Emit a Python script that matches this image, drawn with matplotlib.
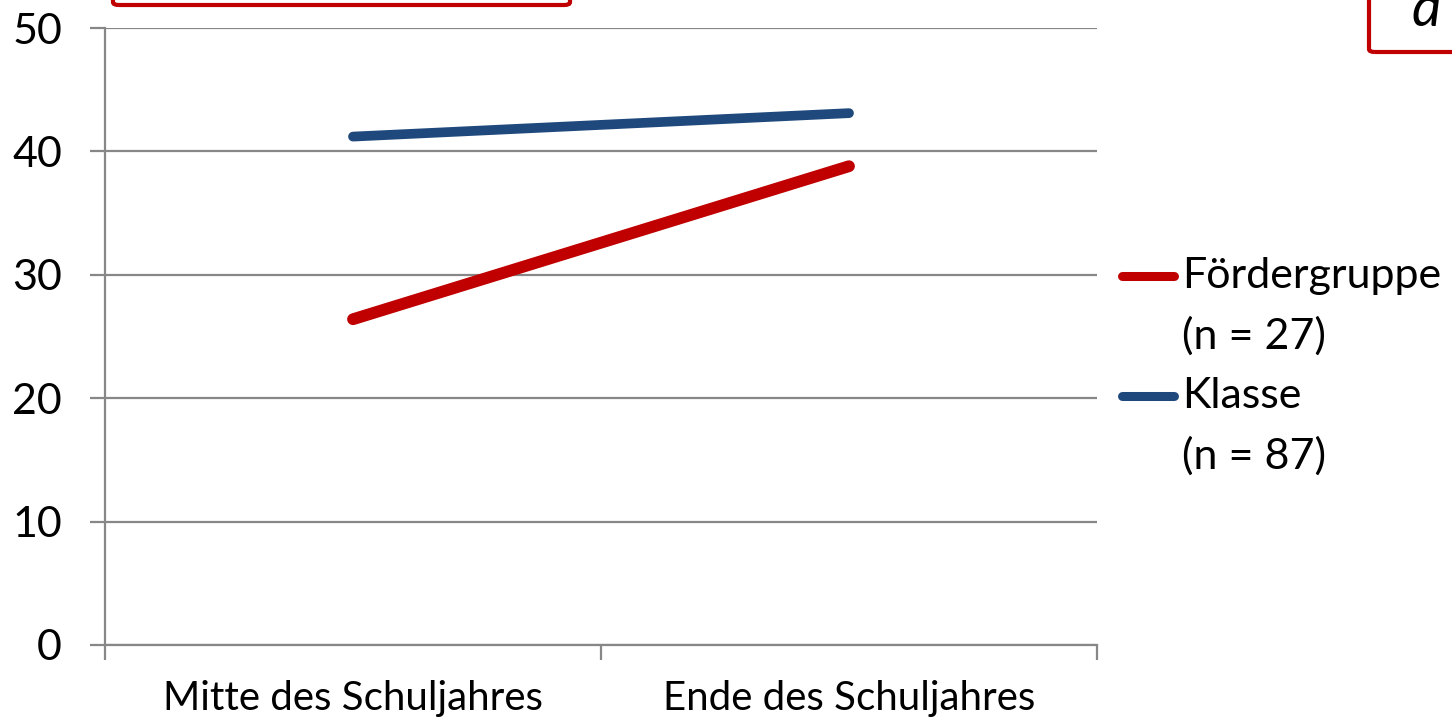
import matplotlib
matplotlib.use('Agg')
import matplotlib.pyplot as plt
from matplotlib.lines import Line2D
from matplotlib.patches import FancyBboxPatch

plt.rcParams['font.family'] = ['Lato', 'DejaVu Sans']

categories = ['Mitte des Schuljahres', 'Ende des Schuljahres']
foerder = [26.4, 38.8]
klasse = [41.2, 43.1]
labels = [('Fördergruppe', '(n = 27)'), ('Klasse', '(n = 87)')]
red = '#C00000'
blue = '#1F497D'
grey = '#878787'

fig = plt.figure(figsize=(14.52, 7.21), dpi=100)
ax = fig.add_axes([105 / 1452, 76 / 721, 992 / 1452, 617 / 721])

xpos = [0.5, 1.5]
ax.plot(xpos, foerder, color=red, lw=8.5, solid_capstyle='round', zorder=3)
ax.plot(xpos, klasse, color=blue, lw=7, solid_capstyle='round', zorder=3)

ax.set_xlim(0, 2)
ax.set_ylim(0, 50)
ax.set_yticks(range(0, 51, 10))
ax.yaxis.grid(True, color=grey, lw=1.6)
ax.set_axisbelow(True)

ax.set_xticks([0, 1, 2])
ax.set_xticklabels([])
ax.set_xticks(xpos, minor=True)
ax.set_xticklabels(categories, minor=True)
ax.tick_params(axis='x', which='major', length=11, width=1.6, color=grey, direction='out')
ax.tick_params(axis='x', which='minor', length=0, pad=25, labelsize=29)
ax.tick_params(axis='y', length=11, width=1.6, color=grey, direction='out', pad=20, labelsize=31)

for s in ['top', 'right']:
    ax.spines[s].set_visible(False)
for s in ['left', 'bottom']:
    ax.spines[s].set_color(grey)
    ax.spines[s].set_linewidth(1.6)

# legend drawn by hand so the handle sits at the first text line
W, H = 1452, 721
for (l1, l2), col, y in zip(labels, [red, blue], [276, 396]):
    fig.add_artist(Line2D([1122 / W, 1174 / W], [1 - y / H, 1 - y / H],
                          color=col, lw=6.5, solid_capstyle='round'))
    fig.text(1182 / W, 1 - y / H, l1, fontsize=31, va='center', ha='left')
    fig.text(1182 / W, 1 - (y + 60) / H, l2, fontsize=31, va='center', ha='left')

# red frames cut off at the top of the slide
fig.add_artist(FancyBboxPatch((113 / W, 1 - 5 / H), 457 / W, 0.2,
                              boxstyle='round,pad=0,rounding_size=0.004',
                              transform=fig.transFigure, fill=False,
                              ec=red, lw=3, clip_on=False))
fig.add_artist(FancyBboxPatch((1369 / W, 1 - 52 / H), 0.2, 0.2,
                              boxstyle='round,pad=0,rounding_size=0.004',
                              transform=fig.transFigure, fill=False,
                              ec=red, lw=3, clip_on=False))
fig.text(1411 / W, 1 - 26 / H, 'd', fontsize=40, style='italic',
         ha='left', va='baseline')

fig.savefig('out.png', dpi=100)
